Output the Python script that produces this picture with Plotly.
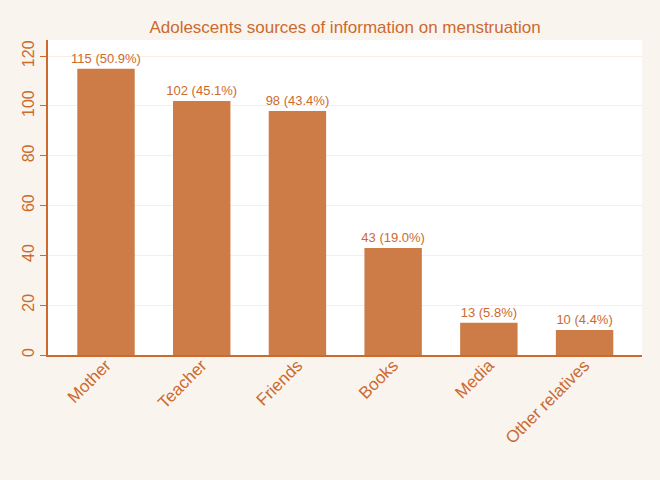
import plotly.graph_objects as go

categories = ["Mother", "Teacher", "Friends", "Books", "Media", "Other relatives"]
counts = [115, 102, 98, 43, 13, 10]
percents = [50.9, 45.1, 43.4, 19.0, 5.8, 4.4]
y_ticks = [0, 20, 40, 60, 80, 100, 120]

labels = [f"{c} ({p:.1f}%)" for c, p in zip(counts, percents)]

orange = "#cc6a2e"
bar_color = "#cd7c48"
bg = "#f9f4ee"

fig = go.Figure(go.Bar(
    x=categories, y=counts, text=labels, textposition="outside",
    textfont=dict(color=orange, size=13, family="Liberation Sans"),
    marker=dict(color=bar_color, line=dict(width=0)),
    width=0.6, cliponaxis=False,
))

fig.update_layout(
    width=660, height=480,
    paper_bgcolor=bg, plot_bgcolor="white",
    margin=dict(l=48, r=18, t=40, b=125),
    title=dict(text="Adolescents sources of information on menstruation",
               x=0.5, xref="paper", xanchor="center", y=0.944, yanchor="middle",
               font=dict(color=orange, size=17, family="Liberation Sans")),
    font=dict(family="Liberation Sans", color=orange),
    showlegend=False,
    uniformtext=dict(minsize=13, mode="show"),
)
fig.update_xaxes(
    range=[-0.606, 5.6], tickangle=-45, showline=True, linecolor=orange,
    linewidth=1.5, ticks="", tickfont=dict(size=17, color=orange),
    showgrid=False, ticklabelstandoff=-8,
)
fig.update_yaxes(
    range=[0, 126.5], tickvals=y_ticks, tickangle=-90, showline=True,
    linecolor=orange, linewidth=1.5, ticks="outside", ticklen=6,
    tickcolor=orange, tickfont=dict(size=16, color=orange),
    showgrid=True, gridcolor="#f6efe6", gridwidth=1, zeroline=False,
)

fig.write_html(
    "out.html",
    config={"displayModeBar": False},
    post_script="document.body.style.margin='0';document.body.style.background='%s';" % bg,
)
